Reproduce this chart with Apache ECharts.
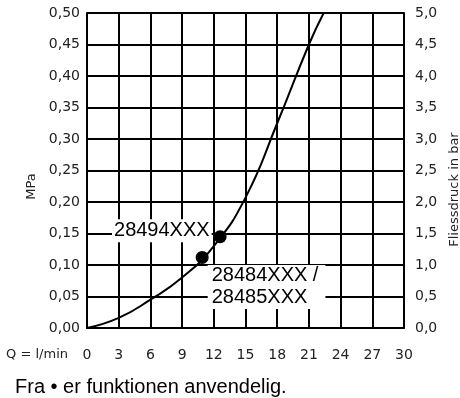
<!DOCTYPE html>
<html>
<head>
<meta charset="utf-8">
<script src="https://cdn.jsdelivr.net/npm/echarts@6/dist/echarts.min.js"></script>
<style>
  html, body { margin: 0; padding: 0; background: #fff; }
  #chart { width: 460px; height: 398px; }
</style>
</head>
<body>
<div id="chart"></div>
<script>
// curve: flow Q (l/min) vs pressure (MPa)
const flowQ = [0, 3, 6, 9, 12, 15, 18, 21, 22.4];
const pressure = [0, 0.016, 0.045, 0.080, 0.130, 0.207, 0.325, 0.45, 0.50];

// marked points
const dotQ = [12.6, 10.9];
const dotP = [0.145, 0.112];
const dotLabels = ["28494XXX", "28484XXX /\n28485XXX"];

const flowUnit = "Q = l/min";
const footNote = "Fra \u2022 er funktionen anvendelig.";

const tickFont = "DejaVu Sans";
const labelFont = "Liberation Sans";

const fmt1 = v => v.toFixed(1).replace(".", ",");
const fmt2 = v => v.toFixed(2).replace(".", ",");

const chart = echarts.init(document.getElementById("chart"));

chart.setOption({
    animation: false,
    title: {
        text: footNote,
        left: 15,
        top: 377,
        padding: 0,
        textStyle: {
            fontFamily: labelFont,
            fontSize: 20,
            fontWeight: "normal",
            color: "#000"
        }
    },
    graphic: [
        {
            type: "text",
            right: 460 - 68,
            top: 348,
            style: {
                text: flowUnit,
                fontFamily: tickFont,
                fontSize: 13,
                fill: "#222"
            }
        }
    ],
    grid: {
        left: 87,
        right: 56,
        top: 13,
        bottom: 70,
        outerBoundsMode: "none"
    },
    xAxis: {
        type: "value",
        min: 0,
        max: 30,
        interval: 3,
        axisLine: { lineStyle: { color: "#000", width: 2 } },
        axisTick: { show: false },
        axisLabel: {
            margin: 20,
            fontFamily: tickFont,
            fontSize: 14,
            color: "#222"
        },
        splitLine: { lineStyle: { color: "#000", width: 2 } }
    },
    yAxis: [
        {
            type: "value",
            min: 0,
            max: 0.5,
            interval: 0.05,
            name: "MPa",
            nameLocation: "middle",
            nameRotate: 90,
            nameGap: 45,
            nameTextStyle: {
                fontFamily: tickFont,
                fontSize: 13,
                color: "#222",
                padding: [0, 32, 0, 0]
            },
            axisLine: { show: true, lineStyle: { color: "#000", width: 2 } },
            axisTick: { show: false },
            axisLabel: {
                margin: 7,
                fontFamily: tickFont,
                fontSize: 14,
                color: "#222",
                formatter: fmt2
            },
            splitLine: { lineStyle: { color: "#000", width: 2 } }
        },
        {
            type: "value",
            min: 0,
            max: 5,
            interval: 0.5,
            position: "right",
            name: "Fliessdruck in bar",
            nameLocation: "middle",
            nameRotate: 90,
            nameGap: 34,
            nameTextStyle: {
                fontFamily: tickFont,
                fontSize: 13,
                color: "#222",
                padding: [0, 38, 0, 0]
            },
            axisLine: { show: true, lineStyle: { color: "#000", width: 2 } },
            axisTick: { show: false },
            axisLabel: {
                margin: 11,
                fontFamily: tickFont,
                fontSize: 14,
                color: "#222",
                formatter: fmt1
            },
            splitLine: { show: false }
        }
    ],
    series: [
        {
            name: "Curve",
            type: "line",
            smooth: 0.5,
            showSymbol: false,
            silent: true,
            lineStyle: { color: "#000", width: 2 },
            data: flowQ.map((q, i) => [q, pressure[i]])
        },
        {
            name: "Points",
            type: "scatter",
            symbolSize: 13,
            silent: true,
            itemStyle: { color: "#000", opacity: 1 },
            z: 5,
            data: [
                {
                    value: [dotQ[0], dotP[0]],
                    label: {
                        show: true,
                        formatter: dotLabels[0],
                        position: "left",
                        distance: 2,
                        offset: [0, -6],
                        fontFamily: labelFont,
                        fontSize: 20,
                        color: "#000",
                        backgroundColor: "#fff",
                        padding: [2, 2, 1, 2]
                    }
                },
                {
                    value: [dotQ[1], dotP[1]],
                    label: {
                        show: true,
                        formatter: dotLabels[1],
                        position: [12, 14],
                        fontFamily: labelFont,
                        fontSize: 20,
                        lineHeight: 22,
                        color: "#000",
                        backgroundColor: "#fff",
                        padding: [0, 7, 0, 4]
                    }
                }
            ]
        }
    ]
});
</script>
</body>
</html>
